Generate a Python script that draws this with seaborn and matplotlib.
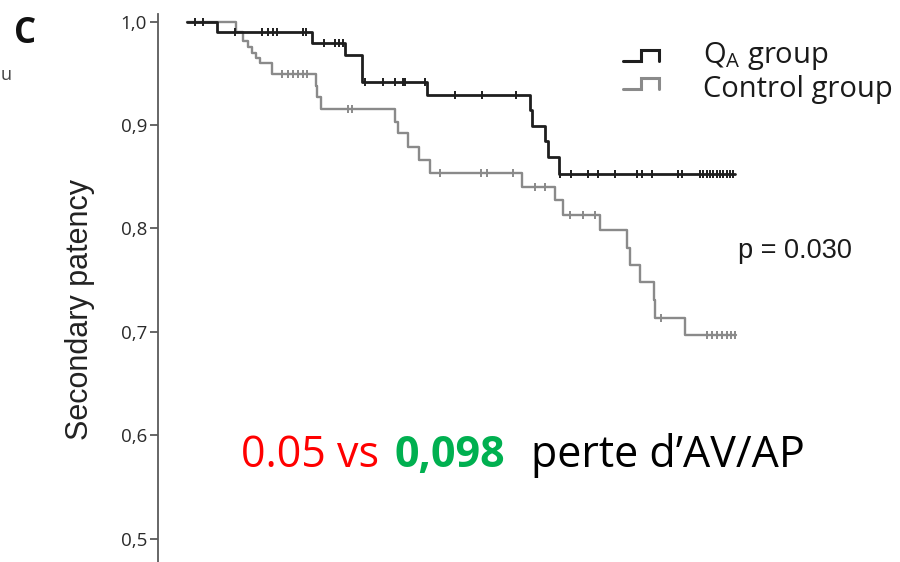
import numpy as np
import pandas as pd
import matplotlib
matplotlib.use("Agg")
import matplotlib.pyplot as plt
from matplotlib.lines import Line2D
import seaborn as sns

# ---------------- data (time in months) ----------------
qa_times = [0, 3.3, 13.7, 17.3, 19.2, 26.3, 37.6, 37.8, 39.2, 39.5, 40.7]
qa_surv = [1.0, 0.990, 0.979, 0.968, 0.942, 0.929, 0.914, 0.899, 0.884, 0.869, 0.853]
qa_end = 60.0
qa_censored = [0.9, 1.8, 5.3, 8.2, 8.9, 9.4, 9.9, 12.7, 13.0, 15.0, 16.2, 16.6, 17.1,
               19.5, 21.5, 22.8, 23.7, 23.9, 26.1, 29.4, 32.3, 36.0,
               40.9, 42.1, 43.9, 45.0, 46.9, 49.3, 49.8, 50.9, 53.8, 54.2, 56.2, 56.5,
               57.0, 57.3, 57.6, 58.1, 58.4, 58.7, 59.1, 59.5, 59.8]

ctrl_times = [0, 5.4, 6.1, 6.7, 7.1, 7.6, 8.0, 9.3, 14.1, 14.2, 14.7, 22.8, 23.1, 24.2,
              25.4, 26.6, 36.7, 40.3, 41.2, 45.2, 48.2, 48.5, 49.6, 51.1, 51.3, 54.5]
ctrl_surv = [1.0, 0.990, 0.981, 0.975, 0.970, 0.965, 0.960, 0.949, 0.938, 0.927, 0.915,
             0.903, 0.892, 0.879, 0.866, 0.854, 0.840, 0.827, 0.813, 0.798, 0.781, 0.765,
             0.748, 0.731, 0.713, 0.697]
ctrl_end = 60.1
ctrl_censored = [10.4, 11.1, 11.6, 12.2, 12.7, 13.1, 17.6, 18.1, 27.7, 32.2, 32.9, 35.7,
                 38.1, 39.2, 42.0, 43.4, 44.7, 51.9, 57.0, 57.5, 58.1, 58.6, 59.1, 59.6, 60.0]

group_names = ["Q$_\\mathregular{A}$ group", "Control group"]
group_colors = ["#1e1e1e", "#8a8a8a"]
ytick_values = [0.5, 0.6, 0.7, 0.8, 0.9, 1.0]
ytick_labels = ["0,5", "0,6", "0,7", "0,8", "0,9", "1,0"]
p_text = "p = 0.030"
panel_label = "C"
y_label = "Secondary patency"
note_parts = ["0.05 vs", "0,098", "perte d\u2019AV/AP"]
note_colors = ["#ff0000", "#00b050", "#000000"]

# ---------------- build tables ----------------
def step_table(times, surv, end, name):
    t = list(times) + [end]
    s = list(surv) + [surv[-1]]
    return pd.DataFrame({"time": t, "surv": s, "group": name})

def censor_table(times, surv, cens, name):
    times = np.asarray(times)
    surv = np.asarray(surv)
    idx = np.searchsorted(times, np.asarray(cens), side="right") - 1
    return pd.DataFrame({"time": cens, "surv": surv[idx], "group": name})

steps = pd.concat([step_table(qa_times, qa_surv, qa_end, group_names[0]),
                   step_table(ctrl_times, ctrl_surv, ctrl_end, group_names[1])])
cens = pd.concat([censor_table(qa_times, qa_surv, qa_censored, group_names[0]),
                  censor_table(ctrl_times, ctrl_surv, ctrl_censored, group_names[1])])

# ---------------- figure ----------------
sns.set_theme(style="white")
plt.rcParams["font.family"] = ["Open Sans", "DejaVu Sans"]
plt.rcParams["mathtext.default"] = "regular"

W, H = 900, 562
fig = plt.figure(figsize=(W / 100, H / 100), dpi=100)

def fx(px):
    return px / W

def fy(py):
    return 1 - py / H

ax = fig.add_axes([fx(158), 0, fx(760) - fx(158), (548) / H])
palette = dict(zip(group_names, group_colors))

# draw control first, QA on top
for name, lw in [(group_names[1], 1.7), (group_names[0], 2.0)]:
    sns.lineplot(data=steps[steps.group == name], x="time", y="surv", color=palette[name],
                 drawstyle="steps-post", estimator=None, sort=False, lw=lw, ax=ax,
                 legend=False)
    sub = cens[cens.group == name]
    ax.plot(sub["time"], sub["surv"], ls="none", marker="|", ms=5.5, mew=1.4,
            color=palette[name])

ax.set_xlim((158 - 187) / 9.13, (760 - 187) / 9.13)
ax.set_ylim(0.4773, 1.0073)
ax.set_xlabel("")
ax.set_ylabel("")
ax.set_xticks([])
ax.set_yticks(ytick_values)
ax.set_yticklabels(ytick_labels, fontsize=13.5, color="#2a2a2a")
ax.tick_params(axis="y", left=True, length=6, width=1.3, color="#5a5a5a", pad=2)
for s in ["top", "right", "bottom"]:
    ax.spines[s].set_visible(False)
ax.spines["left"].set_color("#5a5a5a")
ax.spines["left"].set_linewidth(1.3)

# y label
fig.text(fx(80), fy(309), y_label, rotation=90, ha="center", va="center",
         fontsize=22, family=["Liberation Sans", "DejaVu Sans"], color="#222222")

# panel label and small letter at the left edge
fig.text(fx(14), fy(43), panel_label, fontsize=25, fontweight="bold",
         ha="left", va="baseline", color="#111111")
fig.text(fx(1), fy(80), "u", fontsize=13, ha="left", va="baseline", color="#444444")

# legend icons + text
def icon(y_low, y_high, color, lw):
    xs = [fx(623), fx(641), fx(641), fx(659), fx(659)]
    ys = [fy(y_low), fy(y_low), fy(y_high), fy(y_high), fy(y_low)]
    fig.add_artist(Line2D(xs, ys, color=color, lw=lw, transform=fig.transFigure,
                          solid_joinstyle="miter"))

icon(61, 50, group_colors[0], 2.2)
icon(89, 78, group_colors[1], 2.2)
fig.text(fx(703), fy(63), group_names[0], fontsize=21, ha="left", va="baseline",
         color="#1a1a1a")
fig.text(fx(703), fy(97), group_names[1], fontsize=21, ha="left", va="baseline",
         color="#1a1a1a")

# p value
fig.text(fx(738), fy(258), p_text, fontsize=19.5, ha="left", va="baseline",
         family=["Liberation Sans", "DejaVu Sans"], color="#1a1a1a")

# coloured note
note_x = [241, 395, 531]
note_w = ["normal", "bold", "normal"]
for txt, col, x, w in zip(note_parts, note_colors, note_x, note_w):
    fig.text(fx(x), fy(467), txt, fontsize=31, ha="left", va="baseline", color=col,
             fontweight=w, family=["Open Sans", "DejaVu Sans"])

fig.savefig("out.png", dpi=100)
